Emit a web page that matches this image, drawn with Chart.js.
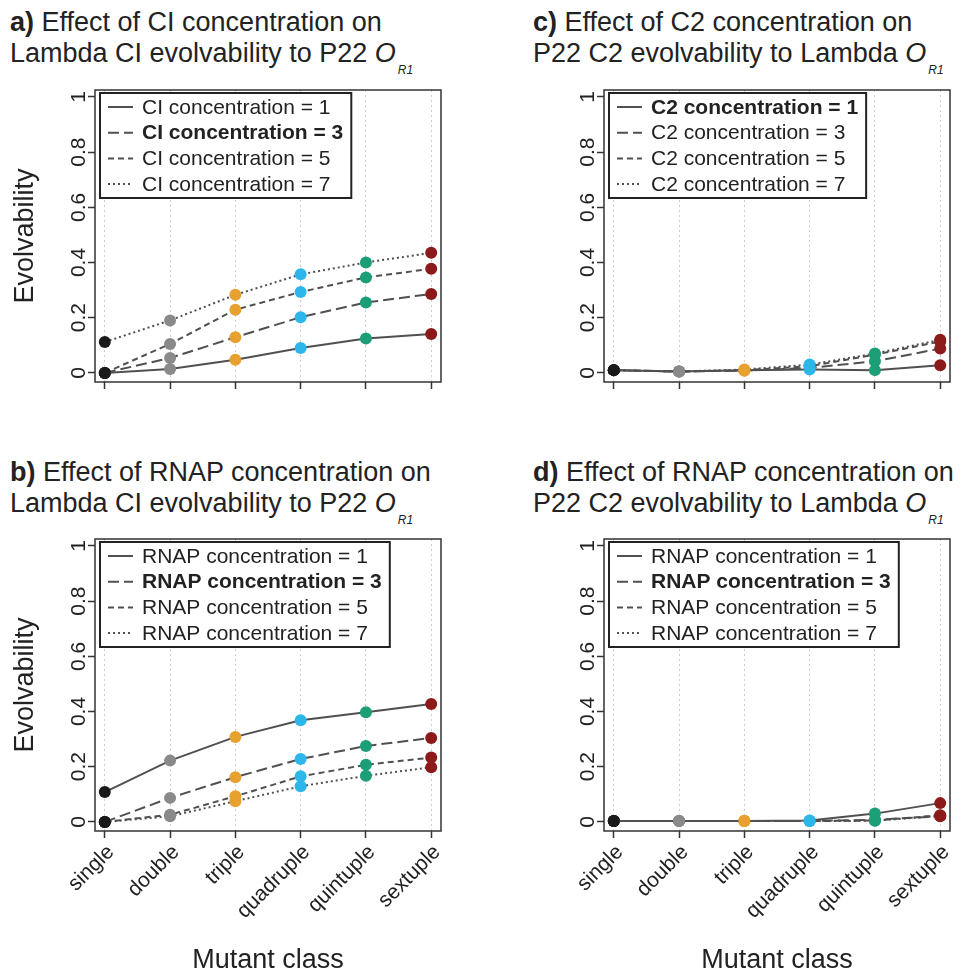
<!DOCTYPE html>
<html>
<head>
<meta charset="utf-8">
<script src="https://cdn.jsdelivr.net/npm/chart.js@4.4.0/dist/chart.umd.min.js"></script>
<style>
  body { margin: 0; background: #fff; width: 965px; height: 974px; position: relative; overflow: hidden;
         font-family: "Liberation Sans", Arial, Helvetica, sans-serif; color: #222; }
  .title { position: absolute; font-size: 27px; line-height: 31px; white-space: nowrap; }
  .title .sub { font-size: 12px; font-style: italic; position: relative; top: 12px; margin-left: 2px; }
  .panel { position: absolute; }
</style>
</head>
<body>

<div class="title" style="left:10px;top:7px"><b>a)</b> Effect of CI concentration on<br>Lambda CI evolvability to P22 <i>O</i><span class="sub">R1</span></div>
<div class="title" style="left:533px;top:7px"><b>c)</b> Effect of C2 concentration on<br>P22 C2 evolvability to Lambda <i>O</i><span class="sub">R1</span></div>
<div class="title" style="left:10px;top:457px"><b>b)</b> Effect of RNAP concentration on<br>Lambda CI evolvability to P22 <i>O</i><span class="sub">R1</span></div>
<div class="title" style="left:533px;top:457px"><b>d)</b> Effect of RNAP concentration on<br>P22 C2 evolvability to Lambda <i>O</i><span class="sub">R1</span></div>

<div class="panel" style="left:0;top:80px;width:480px;height:340px"><canvas id="panelA" width="480" height="340"></canvas></div>
<div class="panel" style="left:480px;top:80px;width:485px;height:340px"><canvas id="panelC" width="485" height="340"></canvas></div>
<div class="panel" style="left:0;top:529px;width:480px;height:445px"><canvas id="panelB" width="480" height="445"></canvas></div>
<div class="panel" style="left:480px;top:529px;width:485px;height:445px"><canvas id="panelD" width="485" height="445"></canvas></div>

<script>
const mutantClasses = ["single", "double", "triple", "quadruple", "quintuple", "sextuple"];
const classPositions = [1, 2, 3, 4, 5, 6];
const classColors = ["#1a1a1a", "#8a8a8a", "#e8a02e", "#2db6ea", "#1c9e77", "#8c1a1a"];
const yTickValues = [0, 0.2, 0.4, 0.6, 0.8, 1];
const yTickLabels = ["0", "0.2", "0.4", "0.6", "0.8", "1"];
const concentrations = [1, 3, 5, 7];

// a) CI concentration, Lambda CI -> P22 OR1
const ciConc1 = [0, 0.014, 0.048, 0.09, 0.125, 0.141];
const ciConc3 = [0, 0.054, 0.129, 0.202, 0.255, 0.286];
const ciConc5 = [0, 0.105, 0.229, 0.293, 0.346, 0.377];
const ciConc7 = [0.112, 0.19, 0.283, 0.357, 0.4, 0.435];

// b) RNAP concentration, Lambda CI -> P22 OR1
const rnapLambda1 = [0.108, 0.222, 0.308, 0.368, 0.397, 0.427];
const rnapLambda3 = [0, 0.087, 0.162, 0.228, 0.275, 0.304];
const rnapLambda5 = [0, 0.026, 0.093, 0.165, 0.207, 0.233];
const rnapLambda7 = [0, 0.02, 0.075, 0.129, 0.167, 0.198];

// c) C2 concentration, P22 C2 -> Lambda OR1
const c2Conc1 = [0.01, 0.005, 0.01, 0.012, 0.01, 0.028];
const c2Conc3 = [0.01, 0.005, 0.008, 0.018, 0.042, 0.088];
const c2Conc5 = [0.01, 0.005, 0.01, 0.024, 0.066, 0.114];
const c2Conc7 = [0.01, 0.005, 0.012, 0.03, 0.07, 0.12];

// d) RNAP concentration, P22 C2 -> Lambda OR1
const rnapP22_1 = [0.003, 0.003, 0.003, 0.005, 0.03, 0.068];
const rnapP22_3 = [0.003, 0.003, 0.003, 0.003, 0.008, 0.02];
const rnapP22_5 = [0.003, 0.003, 0.003, 0.003, 0.005, 0.024];
const rnapP22_7 = [0.003, 0.003, 0.003, 0.003, 0.004, 0.022];

const FONT = '"Liberation Sans", Arial, Helvetica, sans-serif';
const lineDashes = [[], [11, 5], [6, 4], [2, 3]];

const plotBox = {
  id: "plotBox",
  afterDraw(chart) {
    const { ctx, chartArea: a } = chart;
    ctx.save();
    ctx.strokeStyle = "#333";
    ctx.lineWidth = 1.5;
    ctx.strokeRect(a.left, a.top, a.right - a.left, a.bottom - a.top);
    ctx.restore();
  },
};

const boxedLegend = {
  id: "boxedLegend",
  afterDraw(chart, args, opts) {
    const { ctx, chartArea: a } = chart;
    const sets = chart.data.datasets;
    const rowH = 25.7;
    ctx.save();
    let maxW = 0;
    sets.forEach((ds, i) => {
      ctx.font = (i === opts.bold ? "bold " : "") + "21px " + FONT;
      maxW = Math.max(maxW, ctx.measureText(ds.label).width);
    });
    const left = a.left + 5, top = a.top + 3;
    const w = 42 + maxW + 8, h = 105;
    ctx.fillStyle = "#fff";
    ctx.fillRect(left, top, w, h);
    ctx.lineWidth = 2;
    ctx.strokeStyle = "#222";
    ctx.strokeRect(left, top, w, h);
    sets.forEach((ds, i) => {
      const y = a.top + 17 + i * rowH;
      ctx.beginPath();
      ctx.setLineDash(ds.borderDash);
      ctx.strokeStyle = ds.borderColor;
      ctx.lineWidth = ds.borderWidth;
      ctx.moveTo(a.left + 13, y);
      ctx.lineTo(a.left + 38, y);
      ctx.stroke();
      ctx.setLineDash([]);
      ctx.font = (i === opts.bold ? "bold " : "") + "21px " + FONT;
      ctx.fillStyle = "#222";
      ctx.textBaseline = "middle";
      ctx.fillText(ds.label, a.left + 47, y + 1);
    });
    ctx.restore();
  },
};

function makePanel(id, canvasBox, area, name, series, boldIndex, showYTitle, showXLabels) {
  const yWidth = area.l - canvasBox.left;
  const padTop = area.t - canvasBox.top;
  const padRight = canvasBox.left + canvasBox.w - area.r;
  const xHeight = canvasBox.top + canvasBox.h - area.b;

  const datasets = series.map((vals, i) => ({
    label: name + " concentration = " + concentrations[i],
    data: vals.map((v, j) => ({ x: classPositions[j], y: v })),
    borderColor: "#505050",
    borderWidth: 2,
    borderDash: lineDashes[i],
    tension: 0,
    fill: false,
    clip: false,
    pointRadius: 6,
    pointBorderWidth: 0,
    pointBackgroundColor: classColors,
    pointBorderColor: classColors,
  }));

  new Chart(document.getElementById(id), {
    type: "line",
    data: { datasets },
    options: {
      responsive: false,
      animation: false,
      events: [],
      layout: { padding: { left: 0, top: padTop, right: padRight, bottom: 0 } },
      plugins: {
        legend: { display: false },
        tooltip: { enabled: false },
        boxedLegend: { bold: boldIndex },
      },
      scales: {
        x: {
          type: "linear",
          min: 0.85,
          max: 6.15,
          afterBuildTicks: (s) => { s.ticks = classPositions.map((v) => ({ value: v })); },
          afterFit: (s) => { s.height = xHeight; },
          grid: { color: "#cfcfcf", lineWidth: 1, tickLength: 7, tickColor: "#333", tickWidth: 1.5, tickBorderDash: [] },
          border: { display: false, dash: [2, 3] },
          ticks: {
            display: showXLabels,
            autoSkip: false,
            minRotation: 45,
            maxRotation: 45,
            padding: 2,
            labelOffset: 6,
            color: "#222",
            font: { size: 21, family: FONT },
            callback: (v, i) => mutantClasses[i],
          },
          title: {
            display: showXLabels,
            text: "Mutant class",
            color: "#222",
            font: { size: 27, family: FONT, lineHeight: 1 },
            padding: { top: 0, bottom: 0 },
          },
        },
        y: {
          type: "linear",
          min: -0.033,
          max: 1.025,
          afterBuildTicks: (s) => { s.ticks = yTickValues.map((v) => ({ value: v })); },
          afterFit: (s) => { s.width = yWidth; },
          grid: { drawOnChartArea: false, tickLength: 7, tickColor: "#333", tickWidth: 1.5 },
          border: { display: false },
          ticks: {
            minRotation: 90,
            maxRotation: 90,
            crossAlign: "center",
            padding: -6,
            color: "#222",
            font: { size: 21, family: FONT },
            callback: (v, i) => yTickLabels[i],
          },
          title: {
            display: showYTitle,
            text: "Evolvability",
            color: "#222",
            font: { size: 27, family: FONT, lineHeight: 1 },
            padding: { top: 12, bottom: 0 },
          },
        },
      },
    },
    plugins: [plotBox, boxedLegend],
  });
}

makePanel("panelA", { left: 0, top: 80, w: 480, h: 340 }, { l: 95, t: 90, r: 441, b: 382 },
  "CI", [ciConc1, ciConc3, ciConc5, ciConc7], 1, true, false);
makePanel("panelC", { left: 480, top: 80, w: 485, h: 340 }, { l: 604, t: 90, r: 950, b: 382 },
  "C2", [c2Conc1, c2Conc3, c2Conc5, c2Conc7], 0, false, false);
makePanel("panelB", { left: 0, top: 529, w: 480, h: 445 }, { l: 95, t: 539, r: 441, b: 831 },
  "RNAP", [rnapLambda1, rnapLambda3, rnapLambda5, rnapLambda7], 1, true, true);
makePanel("panelD", { left: 480, top: 529, w: 485, h: 445 }, { l: 604, t: 539, r: 950, b: 831 },
  "RNAP", [rnapP22_1, rnapP22_3, rnapP22_5, rnapP22_7], 1, false, true);
</script>
</body>
</html>
